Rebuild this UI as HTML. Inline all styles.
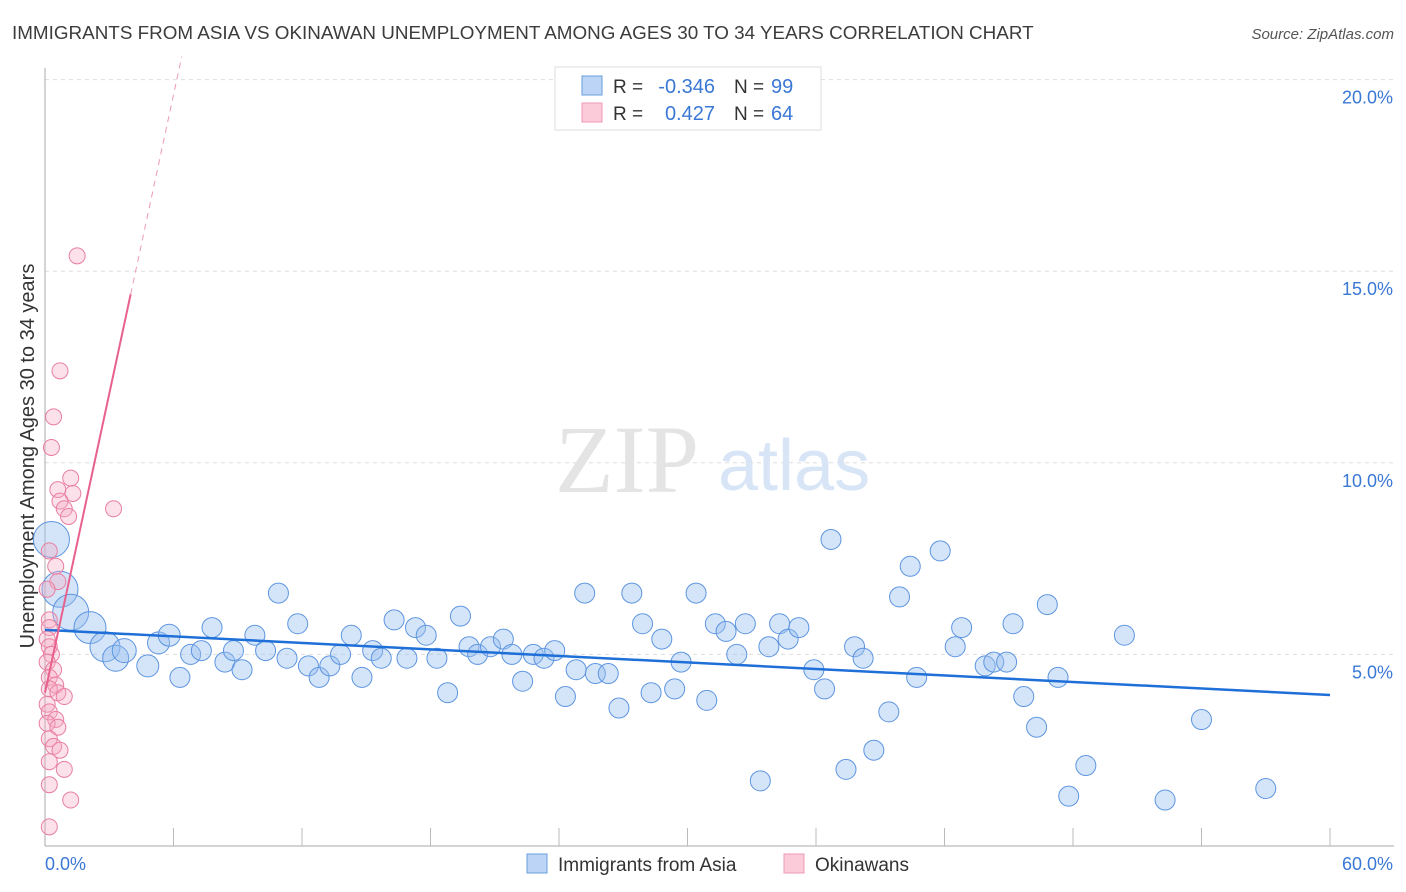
<!DOCTYPE html>
<html><head><meta charset="utf-8"><style>
body{margin:0;background:#fff;font-family:"Liberation Sans",sans-serif}
#c{position:absolute;left:0;top:0}
</style></head><body>
<svg id="c" width="1406" height="892"></svg>
<script>
const blueX=[0.3,0.7,1.2,2.1,2.8,3.3,3.7,4.8,5.3,5.8,6.3,6.8,7.3,7.8,8.4,8.8,9.2,9.8,10.3,10.9,11.3,11.8,12.3,12.8,13.3,13.8,14.3,14.8,15.3,15.7,16.3,16.9,17.3,17.8,18.3,18.8,19.4,19.8,20.2,20.8,21.4,21.8,22.3,22.8,23.3,23.8,24.3,24.8,25.2,25.7,26.3,26.8,27.4,27.9,28.3,28.8,29.4,29.7,30.4,30.9,31.3,31.8,32.3,32.7,33.4,33.8,34.3,34.7,35.2,35.9,36.4,36.7,37.4,37.8,38.2,38.7,39.4,39.9,40.4,40.7,41.8,42.5,42.8,43.9,44.3,44.9,45.2,45.7,46.3,46.8,47.3,47.8,48.6,50.4,52.3,54.0,57.0];
const blueY=[8.0,6.7,6.1,5.7,5.2,4.9,5.1,4.7,5.3,5.5,4.4,5.0,5.1,5.7,4.8,5.1,4.6,5.5,5.1,6.6,4.9,5.8,4.7,4.4,4.7,5.0,5.5,4.4,5.1,4.9,5.9,4.9,5.7,5.5,4.9,4.0,6.0,5.2,5.0,5.2,5.4,5.0,4.3,5.0,4.9,5.1,3.9,4.6,6.6,4.5,4.5,3.6,6.6,5.8,4.0,5.4,4.1,4.8,6.6,3.8,5.8,5.6,5.0,5.8,1.7,5.2,5.8,5.4,5.7,4.6,4.1,8.0,2.0,5.2,4.9,2.5,3.5,6.5,7.3,4.4,7.7,5.2,5.7,4.7,4.8,4.8,5.8,3.9,3.1,6.3,4.4,1.3,2.1,5.5,1.2,3.3,1.5];
const blueSize=[18,18,18,16,15,13,12,11,11,11];
const pinkX=[1.5,0.7,0.4,0.3,1.2,0.6,1.3,0.7,0.9,1.1,3.2,0.2,0.5,0.6,0.1,0.2,0.2,0.1,0.2,0.3,0.1,0.4,0.2,0.5,0.2,0.6,0.9,0.1,0.2,0.5,0.1,0.6,0.2,0.4,0.7,0.2,0.9,0.2,1.2,0.2];
const pinkY=[15.4,12.4,11.2,10.4,9.6,9.3,9.2,9.0,8.8,8.6,8.8,7.7,7.3,6.9,6.7,5.9,5.7,5.4,5.2,5.0,4.8,4.6,4.4,4.2,4.1,4.0,3.9,3.7,3.5,3.3,3.2,3.1,2.8,2.6,2.5,2.2,2.0,1.6,1.2,0.5];
const yTicks=[5,10,15,20];
const blueTrend=[5.64,3.94];
const pinkTrend=[4.0,2.6];
const X=v=>45+v/60*1285, Y=v=>846-v/5*191.6;
const s=document.getElementById('c'),NS='http://www.w3.org/2000/svg';
function el(t,a,p){const e=document.createElementNS(NS,t);for(const k in a)e.setAttribute(k,a[k]);(p||s).appendChild(e);return e;}
let e;
e=el('text',{x:12,y:39,'font-size':18.85,fill:'#3c3c3c'});e.textContent='IMMIGRANTS FROM ASIA VS OKINAWAN UNEMPLOYMENT AMONG AGES 30 TO 34 YEARS CORRELATION CHART';


e=el('text',{x:1394,y:39,'font-size':15,fill:'#555','text-anchor':'end','font-style':'italic'});e.textContent='Source: ZipAtlas.com';


yTicks.forEach(t=>{
 e=el('line',{x1:45,x2:1394,y1:Y(t),y2:Y(t),stroke:'#ddd','stroke-dasharray':'4,4'});
 
 
 e=el('text',{x:1393,y:Y(t)+24,'font-size':18,fill:'#3a78d6','text-anchor':'end'});e.textContent=t.toFixed(1)+'%';
 
 
});
e=el('line',{x1:45,x2:45,y1:68,y2:846,stroke:'#aaa'});


e=el('line',{x1:45,x2:1394,y1:846,y2:846,stroke:'#aaa'});


for(let i=1;i<=10;i++){e=el('line',{x1:X(i*6),x2:X(i*6),y1:828,y2:846,stroke:'#bbb'});
 
 }
e=el('text',{x:45,y:870,'font-size':18,fill:'#3a78d6'});e.textContent='0.0%';


e=el('text',{x:1393,y:870,'font-size':18,fill:'#3a78d6','text-anchor':'end'});e.textContent='60.0%';


e=el('text',{x:0,y:0,'font-size':20,fill:'#333','text-anchor':'middle',transform:'translate(34,456) rotate(-90)'});e.textContent='Unemployment Among Ages 30 to 34 years';


e=el('text',{x:555,y:492,'font-size':96,fill:'#e4e4e4','font-family':'Liberation Serif'});e.textContent='ZIP';


e=el('text',{x:718,y:490,'font-size':72,fill:'#d8e5f6'});e.textContent='atlas';


blueX.forEach((v,i)=>{e=el('circle',{cx:X(v),cy:Y(blueY[i]),r:blueSize[i]||10,fill:'rgba(150,190,240,0.4)',stroke:'#5d95e0','stroke-width':1});
 
 });
pinkX.forEach((v,i)=>{e=el('circle',{cx:X(v),cy:Y(pinkY[i]),r:8,fill:'rgba(245,170,195,0.35)',stroke:'#e87fa0','stroke-width':1});
 
 });
e=el('line',{x1:X(0),y1:Y(blueTrend[0]),x2:X(60),y2:Y(blueTrend[1]),stroke:'#1f6fd8','stroke-width':2.5});


e=el('line',{x1:X(0),y1:Y(pinkTrend[0]),x2:X(4),y2:Y(pinkTrend[0]+pinkTrend[1]*4),stroke:'#e8608c','stroke-width':2});


const xe=(20.6-pinkTrend[0])/pinkTrend[1];
e=el('line',{x1:X(4),y1:Y(pinkTrend[0]+pinkTrend[1]*4),x2:X(xe),y2:Y(20.6),stroke:'#ec9ab5','stroke-width':1,'stroke-dasharray':'6,5'});


const g=el('g',{});


el('rect',{x:555,y:67,width:266,height:63,fill:'#fff',stroke:'#ddd'},g);
el('rect',{x:582,y:76,width:20,height:19,fill:'#bcd4f5',stroke:'#6a9de0'},g);
el('rect',{x:582,y:103,width:20,height:19,fill:'#fbcbd9',stroke:'#ec9ab5'},g);
[['R = ','-0.346','99',93],['R = ',' 0.427','64',120]].forEach(r=>{
 let t=el('text',{x:613,y:r[3],'font-size':19,fill:'#333'},g);t.textContent=r[0];
 t=el('text',{x:715,y:r[3],'font-size':20,fill:'#3a78d6','text-anchor':'end'},g);t.textContent=r[1];
 t=el('text',{x:734,y:r[3],'font-size':19,fill:'#333'},g);t.textContent='N = ';
 t=el('text',{x:771,y:r[3],'font-size':20,fill:'#3a78d6'},g);t.textContent=r[2];
});
const bl=el('g',{});


el('rect',{x:527,y:854,width:20,height:19,fill:'#bcd4f5',stroke:'#6a9de0'},bl);
let t=el('text',{x:558,y:871,'font-size':19,fill:'#333'},bl);t.textContent='Immigrants from Asia';
el('rect',{x:784,y:854,width:20,height:19,fill:'#fbcbd9',stroke:'#ec9ab5'},bl);
t=el('text',{x:815,y:871,'font-size':19,fill:'#333'},bl);t.textContent='Okinawans';
</script>
</body></html>
